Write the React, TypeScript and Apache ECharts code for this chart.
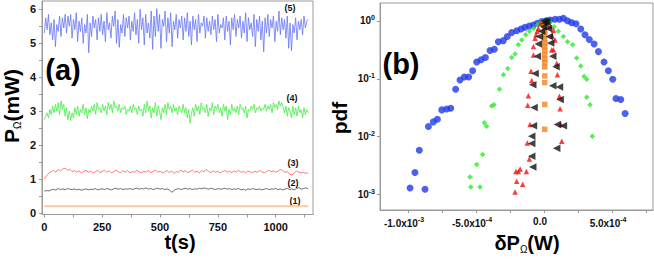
import React, { useEffect, useRef } from "react";
import * as echarts from "echarts";

// ---------- Panel (a): time series, P_Omega (mW) vs t (s) ----------
const dtFast = 6; // s, sampling of traces (4) and (5)
const dtSlow = 10; // s, sampling of traces (2) and (3)
const dtFlat = 95; // s, sampling of trace (1)

const trace5 = [
  5.30, 5.75, 5.40, 5.85, 5.25, 5.60, 5.10, 5.70, 4.90, 5.55, 5.35, 5.80, 5.20, 5.75, 5.45, 5.85, 5.30, 5.80, 5.50, 5.85,
  5.15, 5.70, 5.40, 5.90, 5.05, 5.65, 5.35, 5.75, 5.00, 5.55, 5.30, 5.85, 4.72, 5.60, 5.20, 5.80, 5.45, 5.70, 5.10, 5.75,
  5.35, 5.85, 5.25, 5.65, 5.05, 5.90, 5.40, 5.60, 5.15, 5.80, 5.50, 5.95, 5.00, 5.70, 4.88, 5.55, 5.30, 5.85, 5.20, 5.75,
  5.45, 5.80, 5.10, 5.65, 5.35, 5.90, 5.25, 5.70, 5.00, 6.00, 5.40, 5.75, 4.95, 5.85, 5.30, 5.60, 5.15, 5.95, 4.82, 5.80,
  5.20, 6.02, 5.35, 5.85, 4.85, 5.70, 5.50, 5.95, 5.05, 5.75, 5.30, 5.90, 4.90, 5.65, 5.40, 5.85, 5.15, 5.70, 5.45, 5.80,
  5.10, 5.75, 5.35, 5.90, 5.20, 5.65, 4.95, 5.80, 5.40, 5.70, 5.05, 5.85, 5.30, 5.60, 5.50, 5.80, 5.15, 5.75, 5.35, 5.65,
  5.25, 5.80, 5.40, 5.70, 5.05, 5.85, 5.30, 5.55, 5.45, 5.75, 5.10, 5.80, 5.35, 5.65, 4.95, 5.75, 5.40, 5.85, 5.20, 5.70,
  5.45, 5.80, 5.15, 5.65, 5.30, 5.90, 5.05, 5.75, 5.40, 5.60, 5.20, 5.85, 4.90, 5.70, 5.35, 5.80, 5.10, 5.65, 4.75, 5.75,
  5.30, 5.85, 5.20, 5.70, 5.45, 5.80, 5.05, 5.65, 5.35, 5.95, 5.25, 5.75, 5.40, 5.70, 5.15, 5.80, 4.85, 5.60, 4.78, 5.55,
  5.30, 5.75, 5.10, 5.65, 5.40, 5.70, 5.25, 5.80, 5.45, 5.65, 5.70,
];

const trace4 = [
  2.75, 2.85, 2.95, 2.80, 3.05, 2.90, 3.15, 2.95, 3.20, 3.00, 3.25, 2.90, 3.30, 3.05, 3.20, 2.85, 3.10, 2.75, 3.00, 2.72,
  2.95, 2.80, 3.10, 2.90, 3.15, 2.85, 3.05, 2.95, 3.20, 2.90, 3.10, 2.78, 3.05, 2.95, 3.15, 3.00, 3.20, 2.90, 3.25, 3.05,
  3.10, 2.95, 3.20, 3.00, 3.15, 2.90, 3.25, 3.05, 3.20, 2.95, 3.30, 3.10, 3.15, 3.00, 3.20, 2.95, 3.10, 3.05, 3.15, 2.90,
  3.05, 3.00, 3.15, 2.95, 3.20, 3.05, 3.10, 2.90, 3.15, 3.00, 3.05, 2.85, 3.20, 2.95, 3.30, 3.00, 3.15, 2.80, 3.10, 2.95,
  3.25, 2.85, 3.15, 3.00, 2.75, 3.10, 2.95, 3.20, 2.90, 3.25, 3.05, 3.15, 2.95, 3.20, 3.00, 3.10, 2.90, 3.15, 3.05, 2.95,
  3.20, 2.95, 3.10, 2.80, 3.05, 2.65, 2.95, 3.10, 2.85, 3.20, 3.00, 3.15, 2.90, 3.25, 3.05, 3.10, 2.95, 3.20, 2.85, 3.10,
  3.00, 3.25, 2.90, 3.15, 3.05, 3.20, 2.95, 3.10, 2.85, 3.20, 3.00, 3.15, 2.75, 3.05, 2.90, 3.20, 3.00, 3.10, 2.95, 3.15,
  2.90, 3.20, 3.05, 3.10, 2.95, 3.15, 2.80, 3.05, 3.00, 3.15, 3.05, 3.20, 2.95, 3.10, 3.05, 3.15, 3.00, 3.10, 3.05, 3.20,
  3.00, 3.15, 3.05, 3.20, 2.95, 3.25, 3.10, 3.20, 3.05, 3.30, 3.15, 3.25, 3.10, 2.95, 3.15, 2.85, 3.10, 3.00, 2.80, 3.15,
  2.90, 3.10, 2.85, 3.15, 2.95, 3.05, 2.80, 3.10, 2.90, 3.05, 2.95,
];

const trace3 = [
  1.00, 1.10, 1.18, 1.22, 1.25, 1.20, 1.28, 1.24, 1.30, 1.32, 1.26, 1.29, 1.22, 1.25, 1.20, 1.24, 1.18, 1.22, 1.26, 1.20,
  1.23, 1.17, 1.21, 1.25, 1.19, 1.22, 1.26, 1.20, 1.24, 1.18, 1.22, 1.27, 1.21, 1.19, 1.24, 1.20, 1.25, 1.18, 1.22, 1.20,
  1.26, 1.21, 1.18, 1.23, 1.20, 1.25, 1.19, 1.22, 1.27, 1.20, 1.23, 1.18, 1.21, 1.25, 1.19, 1.24, 1.16, 1.22, 1.20, 1.26,
  1.21, 1.24, 1.19, 1.22, 1.26, 1.20, 1.23, 1.18, 1.25, 1.21, 1.28, 1.22, 1.19, 1.24, 1.20, 1.23, 1.18, 1.22, 1.25, 1.20,
  1.23, 1.19, 1.24, 1.21, 1.26, 1.20, 1.22, 1.18, 1.24, 1.21, 1.19, 1.23, 1.20, 1.25, 1.21, 1.18, 1.22, 1.26, 1.21, 1.24,
  1.20, 1.23, 1.28, 1.25, 1.20, 1.22, 1.14, 1.12, 1.18, 1.24, 1.20, 1.18, 1.19, 1.17, 1.18,
];

const trace2 = [
  0.64, 0.66, 0.65, 0.68, 0.70, 0.67, 0.72, 0.69, 0.71, 0.68, 0.72, 0.70, 0.69, 0.71, 0.68, 0.70, 0.67, 0.69, 0.71, 0.68,
  0.70, 0.69, 0.72, 0.68, 0.70, 0.71, 0.69, 0.72, 0.70, 0.68, 0.71, 0.73, 0.70, 0.72, 0.69, 0.71, 0.70, 0.72, 0.69, 0.71,
  0.73, 0.70, 0.72, 0.71, 0.74, 0.70, 0.72, 0.69, 0.71, 0.73, 0.70, 0.72, 0.69, 0.71, 0.68, 0.61, 0.66, 0.70, 0.72, 0.69,
  0.71, 0.73, 0.70, 0.72, 0.69, 0.71, 0.70, 0.73, 0.71, 0.74, 0.72, 0.70, 0.73, 0.71, 0.69, 0.72, 0.70, 0.71, 0.73, 0.70,
  0.72, 0.69, 0.71, 0.70, 0.72, 0.68, 0.70, 0.67, 0.71, 0.69, 0.72, 0.70, 0.69, 0.71, 0.68, 0.70, 0.72, 0.69, 0.71, 0.70,
  0.72, 0.69, 0.71, 0.68, 0.70, 0.73, 0.69, 0.71, 0.68, 0.72, 0.75, 0.70, 0.72, 0.74, 0.71,
];

const trace1 = [0.2, 0.2, 0.2, 0.2, 0.2, 0.2, 0.2, 0.2, 0.2, 0.2, 0.2, 0.2, 0.2];

const tLabelsA = [0, 250, 500, 750, 1000];
const tTicksA = [0, 125, 250, 375, 500, 625, 750, 875, 1000, 1125];
const pLabelsA = [0, 1, 2, 3, 4, 5, 6];
const pTicksA = [0, 0.5, 1, 1.5, 2, 2.5, 3, 3.5, 4, 4.5, 5, 5.5, 6];

// ---------- Panel (b): pdf of power fluctuations ----------
const pdfBlue: [number, number][] = [
  [-9.85e-4, 1.3e-3], [-9.49e-4, 2.4e-3], [-9.17e-4, 5.8e-3], [-8.75e-4, 1.23e-3], [-8.5e-4, 1.5e-2],
  [-8.14e-4, 1.8e-2], [-7.84e-4, 2.0e-2], [-7.52e-4, 2.9e-2], [-7.16e-4, 3.0e-2], [-6.86e-4, 3.1e-2],
  [-6.5e-4, 6.6e-2], [-6.18e-4, 9.5e-2], [-5.86e-4, 0.107], [-5.54e-4, 0.107], [-5.25e-4, 0.138],
  [-4.95e-4, 0.195], [-4.63e-4, 0.214], [-4.31e-4, 0.234], [-3.97e-4, 0.309], [-3.65e-4, 0.324],
  [-3.36e-4, 0.437], [-2.99e-4, 0.457], [-2.7e-4, 0.537], [-2.38e-4, 0.631], [-2.01e-4, 0.676],
  [-1.69e-4, 0.724], [-1.4e-4, 0.776], [-1.08e-4, 0.813], [-0.78e-4, 0.851], [-0.49e-4, 0.912],
  [-0.17e-4, 0.977], [0.15e-4, 1.01], [0.44e-4, 1.04], [0.81e-4, 1.07], [1.13e-4, 1.07],
  [1.42e-4, 1.11], [1.72e-4, 1.01], [2.03e-4, 0.933], [2.35e-4, 0.891], [2.7e-4, 0.724],
  [3.01e-4, 0.575], [3.33e-4, 0.479], [3.68e-4, 0.398], [4.0e-4, 0.295], [4.41e-4, 0.195],
  [4.73e-4, 0.138], [5.05e-4, 0.098], [5.29e-4, 0.0457], [5.64e-4, 0.0437], [5.96e-4, 0.0251],
];

const pdfGreen: [number, number][] = [
  [-5.39e-4, 1.35e-3], [-5.44e-4, 2.0e-3], [-4.71e-4, 1.35e-3], [-4.95e-4, 3.3e-3], [-4.51e-4, 4.9e-3],
  [-4.39e-4, 1.74e-2], [-4.22e-4, 1.51e-2], [-3.85e-4, 3.4e-2], [-3.68e-4, 3.55e-2], [-3.28e-4, 6.6e-2],
  [-2.99e-4, 0.117], [-2.67e-4, 0.151], [-2.38e-4, 0.234], [-2.13e-4, 0.269], [-1.89e-4, 0.389],
  [-1.64e-4, 0.468], [-1.35e-4, 0.575], [-1.08e-4, 0.661], [-0.78e-4, 0.741], [-0.49e-4, 0.851],
  [-0.25e-4, 0.933], [0.2e-4, 1.01], [0.44e-4, 0.933], [0.74e-4, 0.794], [1.05e-4, 0.661],
  [1.42e-4, 0.537], [1.72e-4, 0.437], [2.11e-4, 0.389], [2.4e-4, 0.229], [2.7e-4, 0.166],
  [2.94e-4, 0.11], [3.14e-4, 0.0977], [3.14e-4, 0.0479], [3.38e-4, 0.0355], [3.55e-4, 0.0102],
];

const pdfRed: [number, number][] = [
  [-2.13e-4, 1.1e-3], [-2.01e-4, 1.7e-3], [-1.89e-4, 2.5e-3], [-1.76e-4, 2.75e-3], [-1.57e-4, 1.5e-3],
  [-2.07e-4, 2.5e-3], [-1.3e-4, 2.5e-3], [-1.08e-4, 4.1e-3], [-1.23e-4, 7.8e-3], [-1.03e-4, 1.62e-2],
  [-1.15e-4, 5.1e-2], [-1.2e-4, 3.5e-2], [-0.91e-4, 9.3e-2], [-0.96e-4, 0.135], [-0.78e-4, 0.257],
  [-0.78e-4, 0.363], [-0.66e-4, 0.5], [-0.59e-4, 0.575], [-0.5e-4, 0.66], [-0.42e-4, 0.741],
  [-0.25e-4, 0.9], [0.25e-4, 0.95], [0.45e-4, 0.81], [0.6e-4, 0.55], [0.69e-4, 0.692],
  [0.81e-4, 0.468], [0.56e-4, 0.316], [0.69e-4, 0.316], [0.93e-4, 0.186], [0.98e-4, 0.117],
  [1.13e-4, 0.0501], [1.18e-4, 0.0302], [1.23e-4, 0.0162], [1.3e-4, 8.3e-3],
];

const pdfOrange: [number, number][] = [
  [0.05e-4, 0.9], [0.05e-4, 0.76], [0.05e-4, 0.66], [0.05e-4, 0.57], [0.05e-4, 0.49],
  [0.05e-4, 0.42], [0.05e-4, 0.36], [0.05e-4, 0.31], [0.05e-4, 0.26], [0.05e-4, 0.22],
  [0.05e-4, 0.19], [0.05e-4, 0.16], [0.05e-4, 0.112], [0.05e-4, 0.086], [0.05e-4, 0.036],
  [0.05e-4, 0.0134],
];

const pdfBlack: [number, number][] = [
  [-0.83e-4, 3.0e-3], [-0.91e-4, 4.6e-3], [-0.91e-4, 7.6e-3], [-0.91e-4, 1.02e-2], [-0.78e-4, 1.55e-2],
  [-0.74e-4, 3.2e-2], [-0.83e-4, 7.9e-2], [-0.66e-4, 0.123], [-0.49e-4, 0.245], [-0.42e-4, 0.398],
  [-0.34e-4, 0.537], [-0.17e-4, 0.661], [-0.05e-4, 0.794], [0.07e-4, 0.912], [0.0, 1.0],
  [0.2e-4, 0.98], [0.32e-4, 0.741], [0.39e-4, 0.537], [0.49e-4, 0.417], [0.64e-4, 0.245],
  [0.88e-4, 0.162], [0.64e-4, 0.0759], [1.13e-4, 0.0724], [1.18e-4, 0.0437], [0.98e-4, 0.0162],
  [1.42e-4, 0.0155], [0.93e-4, 6.3e-3],
];

const dpLabelsB = [-1e-3, -5e-4, 0, 5e-4];
const dpTicksB = [-1e-3, -7.5e-4, -5e-4, -2.5e-4, 0, 2.5e-4, 5e-4, 7.5e-4];

const traceLabels = ["(1)", "(2)", "(3)", "(4)", "(5)"];

const FONT = "'Liberation Sans', Arial, Helvetica, sans-serif";
const AXIS_GRAY = "#9a9a9a";

const withTime = (vals: number[], dt: number) => vals.map((v, i) => [i * dt, v]);

function sciLabel(v: number): string {
  if (Math.abs(v) < 1e-12) return "{b|0.0}";
  const e = Math.floor(Math.log10(Math.abs(v)) + 1e-9);
  const m = v / Math.pow(10, e);
  return `{b|${m.toFixed(1)}x10}{sup|${e}}`;
}

function logLabel(v: number): string {
  const l = Math.log10(v);
  const r = Math.round(l);
  if (Math.abs(l - r) > 0.01) return "";
  return `{b|10}{sup|${r}}`;
}

const richSci = {
  b: { fontFamily: FONT, fontWeight: "bold", fontSize: 10, color: "#111" },
  sup: { fontFamily: FONT, fontWeight: "bold", fontSize: 7, color: "#111", padding: [0, 0, 7, 0] },
};

function buildOption(): any {
  const labelStyle = { fontFamily: FONT, fontWeight: "bold", fontSize: 11, color: "#111" };
  const line = { show: true, onZero: false, lineStyle: { color: AXIS_GRAY } };
  return {
    animation: false,
    backgroundColor: "#fff",
    grid: [
      { left: 42, top: 1, width: 271, height: 213.5, show: true, borderColor: AXIS_GRAY, borderWidth: 1, backgroundColor: "transparent" },
      { left: 380, top: 3, width: 273, height: 207, show: true, borderColor: AXIS_GRAY, borderWidth: 1, backgroundColor: "transparent" },
    ],
    xAxis: [
      {
        type: "value",
        gridIndex: 0,
        min: -10,
        max: 1161,
        axisLine: line,
        axisTick: { show: true, length: 3, customValues: tTicksA, lineStyle: { color: AXIS_GRAY } },
        axisLabel: { ...labelStyle, margin: 7, customValues: tLabelsA, formatter: (v: number) => String(v) },
        splitLine: { show: false },
      },
      {
        type: "value",
        gridIndex: 1,
        min: -1.206e-3,
        max: 8.01e-4,
        axisLine: line,
        axisTick: { show: true, length: 3, customValues: dpTicksB, lineStyle: { color: AXIS_GRAY } },
        axisLabel: {
          ...labelStyle,
          margin: 6,
          customValues: dpLabelsB,
          formatter: (v: number) => sciLabel(v),
          rich: richSci,
          padding: [0, 8, 0, 0],
        },
        splitLine: { show: false },
      },
    ],
    yAxis: [
      {
        type: "value",
        gridIndex: 0,
        min: -0.045,
        max: 6.245,
        axisLine: line,
        axisTick: { show: true, length: 3, customValues: pTicksA, lineStyle: { color: AXIS_GRAY } },
        axisLabel: { ...labelStyle, margin: 6, customValues: pLabelsA, formatter: (v: number) => String(v) },
        splitLine: { show: false },
      },
      {
        type: "log",
        logBase: 10,
        gridIndex: 1,
        min: 5.4e-4,
        max: 2.04,
        axisLine: line,
        axisTick: { show: true, length: 3, lineStyle: { color: AXIS_GRAY } },
        axisLabel: {
          ...labelStyle,
          margin: 5,
          showMinLabel: false,
          showMaxLabel: false,
          formatter: (v: number) => logLabel(v),
          rich: richSci,
        },
        splitLine: { show: false },
      },
    ],
    series: [
      { type: "line", xAxisIndex: 0, yAxisIndex: 0, data: withTime(trace1, dtFlat), showSymbol: false, lineStyle: { color: "#fdc9a3", width: 2 }, silent: true },
      { type: "line", xAxisIndex: 0, yAxisIndex: 0, data: withTime(trace2, dtSlow), showSymbol: false, lineStyle: { color: "#333", width: 0.7 }, silent: true },
      { type: "line", xAxisIndex: 0, yAxisIndex: 0, data: withTime(trace3, dtSlow), showSymbol: false, lineStyle: { color: "#ff6c6c", width: 0.9 }, silent: true },
      { type: "line", xAxisIndex: 0, yAxisIndex: 0, data: withTime(trace4, dtFast), showSymbol: false, lineStyle: { color: "#45ec45", width: 0.8 }, silent: true },
      { type: "line", xAxisIndex: 0, yAxisIndex: 0, data: withTime(trace5, dtFast), showSymbol: false, lineStyle: { color: "#6675f4", width: 0.8 }, silent: true },

      { type: "scatter", xAxisIndex: 1, yAxisIndex: 1, data: pdfBlue, symbol: "circle", symbolSize: 7, itemStyle: { color: "#1f3be8" }, silent: true },
      { type: "scatter", xAxisIndex: 1, yAxisIndex: 1, data: pdfGreen, symbol: "diamond", symbolSize: 5.5, itemStyle: { color: "#2ee82e" }, silent: true },
      { type: "scatter", xAxisIndex: 1, yAxisIndex: 1, data: pdfRed, symbol: "triangle", symbolSize: 5.5, itemStyle: { color: "#ee1111" }, silent: true },
      { type: "scatter", xAxisIndex: 1, yAxisIndex: 1, data: pdfOrange, symbol: "rect", symbolSize: 5.5, itemStyle: { color: "#f08424" }, silent: true },
      { type: "scatter", xAxisIndex: 1, yAxisIndex: 1, data: pdfBlack, symbol: "triangle", symbolRotate: 90, symbolSize: 7.5, itemStyle: { color: "#111" }, silent: true },
    ],
    graphic: [
      // axis titles
      {
        type: "text", x: 180, y: 242,
        style: { text: "t(s)", font: `bold 20px ${FONT}`, fill: "#000", align: "center", verticalAlign: "middle", textAlign: "center", textVerticalAlign: "middle" },
      },
      {
        type: "text", x: 11, y: 106, rotation: Math.PI / 2,
        style: {
          text: "{m|P}{s|Ω}{m|(mW)}",
          align: "center", verticalAlign: "middle", textAlign: "center", textVerticalAlign: "middle",
          fill: "#000",
          rich: {
            m: { fontFamily: FONT, fontWeight: "bold", fontSize: 21, fill: "#000" },
            s: { fontFamily: FONT, fontWeight: "normal", fontSize: 10, fill: "#000", padding: [12, 0, 0, 0] },
          },
        },
      },
      {
        type: "text", x: 527, y: 243,
        style: {
          text: "{m|δP}{s|Ω}{m|(W)}",
          align: "center", verticalAlign: "middle", textAlign: "center", textVerticalAlign: "middle",
          fill: "#000",
          rich: {
            m: { fontFamily: FONT, fontWeight: "bold", fontSize: 20, fill: "#000" },
            s: { fontFamily: FONT, fontWeight: "normal", fontSize: 10, fill: "#000", padding: [12, 0, 0, 0] },
          },
        },
      },
      {
        type: "text", x: 339, y: 118, rotation: Math.PI / 2,
        style: { text: "pdf", font: `bold 21px ${FONT}`, fill: "#000", align: "center", verticalAlign: "middle", textAlign: "center", textVerticalAlign: "middle" },
      },
      // panel letters
      {
        type: "text", x: 63, y: 70,
        style: { text: "(a)", font: `bold 29px ${FONT}`, fill: "#000", align: "center", verticalAlign: "middle", textAlign: "center", textVerticalAlign: "middle" },
      },
      {
        type: "text", x: 401, y: 64,
        style: { text: "(b)", font: `bold 29px ${FONT}`, fill: "#000", align: "center", verticalAlign: "middle", textAlign: "center", textVerticalAlign: "middle" },
      },
      // trace labels
      ...[
        [295, 201],
        [293, 183],
        [293, 163],
        [292, 98],
        [290, 8],
      ].map(([x, y], i) => ({
        type: "text", x, y,
        style: { text: traceLabels[i], font: `bold 9px ${FONT}`, fill: "#111", align: "center", verticalAlign: "middle", textAlign: "center", textVerticalAlign: "middle" },
      })),
    ],
  };
}

export default function App() {
  const ref = useRef<HTMLDivElement>(null);
  useEffect(() => {
    if (!ref.current) return;
    const chart = echarts.init(ref.current, null, { renderer: "svg" });
    chart.setOption(buildOption());
    return () => chart.dispose();
  }, []);
  return (
    <div
      ref={ref}
      style={{ position: "fixed", left: 0, top: 0, width: 654, height: 260, background: "#fff" }}
    />
  );
}
